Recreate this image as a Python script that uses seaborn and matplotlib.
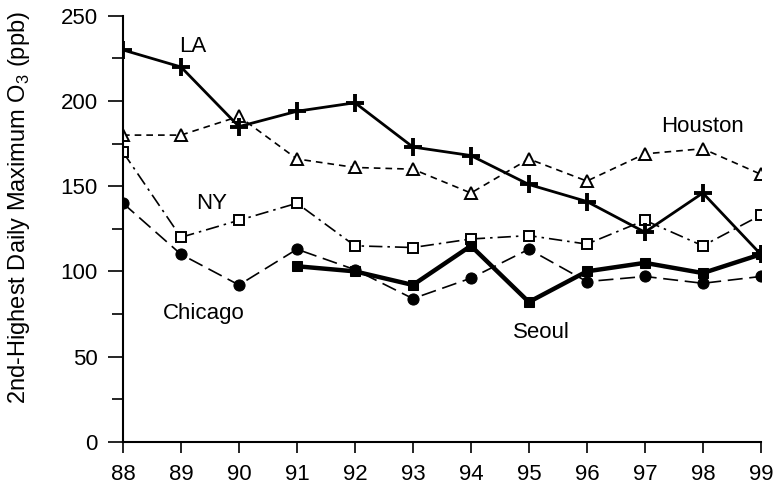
import matplotlib
matplotlib.use("Agg")
import matplotlib.pyplot as plt
from matplotlib.ticker import MultipleLocator
import seaborn as sns

years = [88, 89, 90, 91, 92, 93, 94, 95, 96, 97, 98, 99]
la = [230, 220, 185, 194, 199, 173, 168, 151, 141, 123, 146, 110]
houston = [180, 180, 191, 166, 161, 160, 146, 166, 153, 169, 172, 157]
ny = [170, 120, 130, 140, 115, 114, 119, 121, 116, 130, 115, 133]
chicago = [140, 110, 92, 113, 101, 84, 96, 113, 94, 97, 93, 97]
seoul_years = [91, 92, 93, 94, 95, 96, 97, 98, 99]
seoul = [103, 100, 92, 115, 82, 100, 105, 99, 110]

sns.set_style("ticks")
plt.rcParams["font.family"] = ["Liberation Sans", "DejaVu Sans"]
plt.rcParams["mathtext.fontset"] = "custom"
plt.rcParams["mathtext.rm"] = "Liberation Sans"
for key in ("text.color", "axes.labelcolor", "xtick.color", "ytick.color",
            "xtick.labelcolor", "ytick.labelcolor"):
    plt.rcParams[key] = "black"

fig = plt.figure(figsize=(7.75, 4.9), dpi=100)
ax = fig.add_axes([0.1587, 0.0986, 0.823, 0.869])

k = "black"
sns.lineplot(x=years, y=houston, ax=ax, color=k, linewidth=1.2,
             linestyle=(0, (4, 3)), marker="^", markersize=8.5,
             markerfacecolor="white", markeredgecolor=k, markeredgewidth=1.4)
sns.lineplot(x=years, y=ny, ax=ax, color=k, linewidth=1.2,
             linestyle=(0, (8, 3, 1.5, 3)), marker="s", markersize=6.5,
             markerfacecolor="white", markeredgecolor=k, markeredgewidth=1.4)
sns.lineplot(x=years, y=chicago, ax=ax, color=k, linewidth=1.2,
             linestyle=(0, (9, 4)), marker="o", markersize=8,
             markerfacecolor=k, markeredgecolor=k)
sns.lineplot(x=seoul_years, y=seoul, ax=ax, color=k, linewidth=3.2,
             linestyle="-", marker="s", markersize=7,
             markerfacecolor=k, markeredgecolor=k)
sns.lineplot(x=years, y=la, ax=ax, color=k, linewidth=2.0,
             linestyle="-", marker="+", markersize=13,
             markeredgewidth=2.8, markeredgecolor=k)

ax.set_xlim(88, 99)
ax.set_ylim(0, 250)
ax.set_xticks(years)
ax.set_xticklabels([str(y) for y in years])
ax.yaxis.set_major_locator(MultipleLocator(50))
ax.yaxis.set_minor_locator(MultipleLocator(25))
ax.tick_params(axis="y", which="major", length=11, width=1.2, labelsize=16, pad=7)
ax.tick_params(axis="y", which="minor", length=8, width=1.2)
ax.tick_params(axis="x", which="major", length=8, width=1.2, labelsize=16, pad=8)
for s in ("top", "right"):
    ax.spines[s].set_visible(False)
for s in ("left", "bottom"):
    ax.spines[s].set_linewidth(1.5)
    ax.spines[s].set_color(k)

ax.set_ylabel("2nd-Highest Daily Maximum O$_3$ (ppb)", fontsize=17)
ax.yaxis.set_label_coords(-0.143, 0.55)
ax.set_xlabel("")

lab = dict(fontsize=16, ha="center", va="center", color=k)
ax.text(89.2, 232, "LA", **lab)
ax.text(89.53, 140, "NY", **lab)
ax.text(89.4, 75, "Chicago", **lab)
ax.text(95.22, 64, "Seoul", **lab)
ax.text(98.0, 185, "Houston", **lab)

fig.savefig("out.png", dpi=100)
